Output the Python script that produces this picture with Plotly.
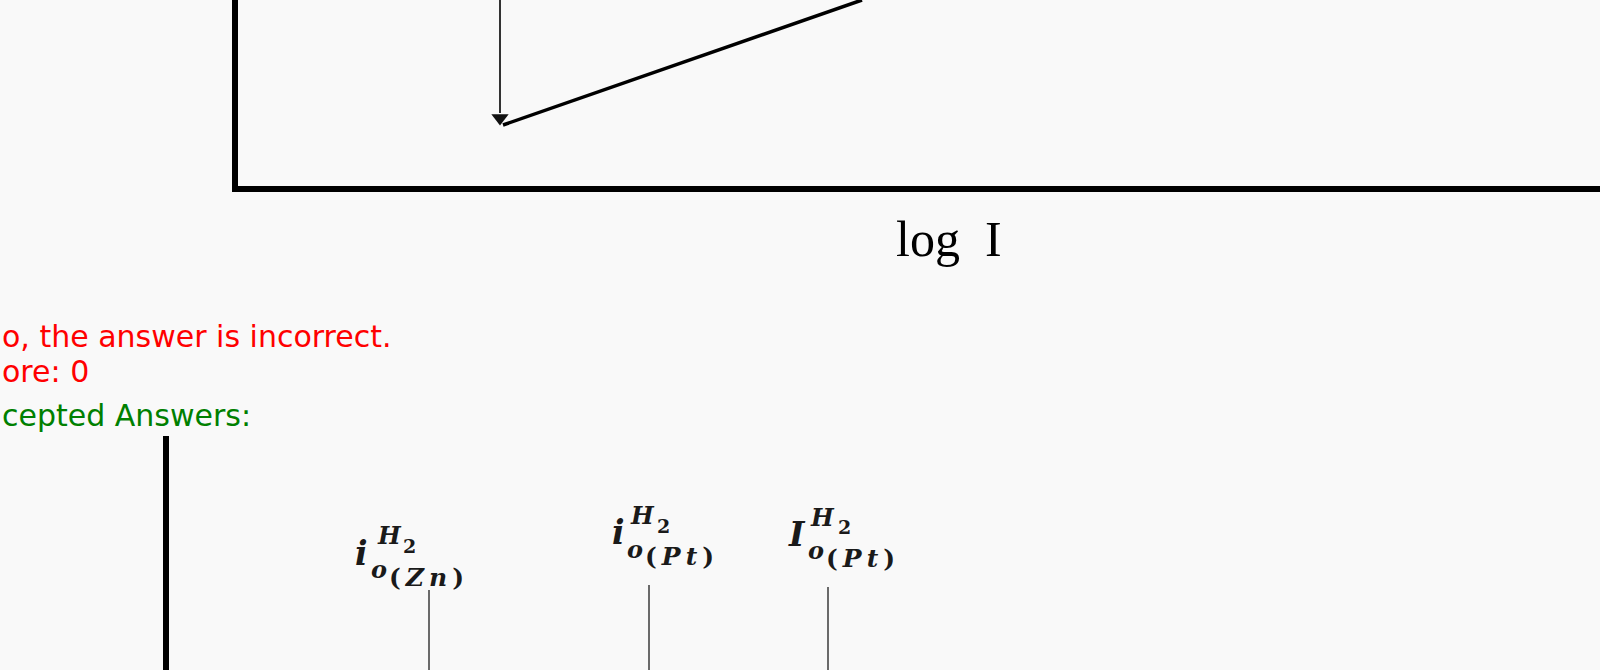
import plotly.graph_objects as go

# ---- schematic data (arbitrary units: log I across, potential E up) ----
# Tafel panel
frame_logi = [0.0, 0.0, 14.0]
frame_e = [2.0, 0.0, 0.0]
drop_logi = [2.65, 2.65]
drop_e = [2.0, 0.76]
drop_tip_logi = [2.65]
drop_tip_e = [0.71]
tafel_logi = [2.68, 6.27]
tafel_e = [0.64, 1.89]
x_title = "log\u2002I"

# Exchange-current panel
exch_axis_logi = [-0.69, -0.69]
exch_axis_e = [-2.47, -5.0]
exch_logi = [1.94, 4.14, 5.93]
exch_top = [-4.01, -3.96, -3.98]
exch_symbol = ["i", "i", "I"]
exch_metal = ["Zn", "Pt", "Pt"]

# Feedback text (the part visible inside the page edge)
feedback_lines = ["o, the answer is incorrect.", "ore: 0", "cepted Answers:"]
feedback_colors = ["#ff0000", "#ff0000", "#008000"]

# ---- layout settings ----
W, H = 1600, 670
BG = "#f9f9f9"
X_RANGE = [-2.35, 13.65]
Y_RANGE = [-4.81, 1.89]

# label anchors: left edge / baseline of the main symbol
label_anchor_x = [1.18, 3.75, 5.51]
label_anchor_y = [-3.76, -3.55, -3.57]
# (dx, dy, size) in px for H, 2, o, (metal)
label_offsets = [
    [(22, -21, 24), (48, -12, 19), (16, 13, 24), (34, 21, 25)],
    [(18, -20, 24), (45, -11, 19), (15, 14, 24), (33, 21, 25)],
    [(22, -20, 24), (50, -12, 19), (20, 13, 24), (38, 21, 25)],
]
base_size = [33, 33, 33]

feedback_left_px = 0
feedback_baseline_px = [347, 382, 426]
FEEDBACK_SIZE = 30

SERIF = "DejaVu Serif"
SANS = "DejaVu Sans"


def mid_shift(size):
    # offset from baseline to the vertical middle of a text box
    return 0.346 * size


def math_text(s):
    return f"<b><i>{s}</i></b>"


fig = go.Figure()

fig.add_trace(go.Scatter(x=frame_logi, y=frame_e, mode="lines",
                         line=dict(color="#000000", width=6), hoverinfo="skip"))
fig.add_trace(go.Scatter(x=drop_logi, y=drop_e, mode="lines",
                         line=dict(color="#333333", width=2), hoverinfo="skip"))
fig.add_trace(go.Scatter(x=drop_tip_logi, y=drop_tip_e, mode="markers",
                         marker=dict(symbol="triangle-down", size=15, color="#111111",
                                     line=dict(width=0)), hoverinfo="skip"))
fig.add_trace(go.Scatter(x=tafel_logi, y=tafel_e, mode="lines",
                         line=dict(color="#000000", width=3.5), hoverinfo="skip"))

fig.add_trace(go.Scatter(x=exch_axis_logi, y=exch_axis_e, mode="lines",
                         line=dict(color="#000000", width=6), hoverinfo="skip"))
for xv, top in zip(exch_logi, exch_top):
    fig.add_trace(go.Scatter(x=[xv, xv], y=[top, Y_RANGE[0] - 0.3], mode="lines",
                             line=dict(color="#6a6a6a", width=2), hoverinfo="skip"))

annotations = []

# axis caption under the Tafel frame
annotations.append(dict(x=6.59, y=-0.50, xref="x", yref="y", text=x_title,
                        showarrow=False, xanchor="left", yanchor="middle",
                        font=dict(family="Liberation Serif", size=50, color="#000000")))

# exchange current labels
thin = "\u2009"
for sym, metal, ax, ay, offs, bs in zip(exch_symbol, exch_metal, label_anchor_x,
                                        label_anchor_y, label_offsets, base_size):
    pieces = [(math_text(sym), (0, 0, bs))]
    paren = ("<b>(</b>" + thin + math_text(metal[0]) + thin + math_text(metal[1])
             + thin + "<b>)</b>")
    texts = [math_text("H"), "<b>2</b>", math_text("o"), paren]
    for t, o in zip(texts, offs):
        pieces.append((t, o))
    for t, (dx, dy, sz) in pieces:
        annotations.append(dict(x=ax, y=ay, xref="x", yref="y", text=t,
                                showarrow=False, xanchor="left", yanchor="middle",
                                xshift=dx, yshift=mid_shift(sz) - dy,
                                font=dict(family=SERIF, size=sz, color="#1a1a1a")))

# feedback lines
for txt, col, by in zip(feedback_lines, feedback_colors, feedback_baseline_px):
    cy = by - mid_shift(FEEDBACK_SIZE)
    annotations.append(dict(x=feedback_left_px / W, y=1 - cy / H, xref="paper", yref="paper",
                            text=txt, showarrow=False, xanchor="left", yanchor="middle",
                            font=dict(family=SANS, size=FEEDBACK_SIZE, color=col)))

fig.update_layout(
    width=W, height=H, autosize=False,
    margin=dict(l=0, r=0, t=0, b=0, pad=0),
    paper_bgcolor=BG, plot_bgcolor=BG,
    showlegend=False,
    xaxis=dict(range=X_RANGE, visible=False, fixedrange=True),
    yaxis=dict(range=Y_RANGE, visible=False, fixedrange=True),
    annotations=annotations,
)

fig.write_html("out.html", config={"displayModeBar": False})
